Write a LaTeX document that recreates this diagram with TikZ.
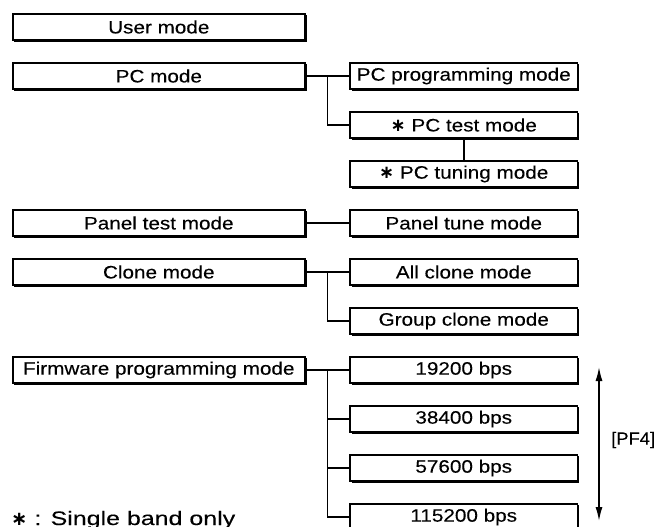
\documentclass[tikz,border=0pt]{standalone}
\usepackage{fontspec}
\setmainfont[FakeStretch=1.15,FakeBold=0.2]{Liberation Sans}
\newfontfamily\notefont[FakeStretch=1.28,FakeBold=0.2]{Liberation Sans}
\newfontfamily\plainfont[FakeStretch=1.05,FakeBold=0.2]{Liberation Sans}
\newfontfamily\symfont{DejaVu Sans}
\usetikzlibrary{arrows.meta,shadows,calc}
\newcommand{\myast}{{\symfont\bfseries\char"2217}}
\begin{document}
\begin{tikzpicture}[x=1pt,y=-1pt,
  mbox/.style={draw, line width=1.8pt, fill=white, minimum height=26.6pt, inner sep=0pt,
    font=\fontsize{18}{20}\selectfont,
    drop shadow={shadow xshift=1.6pt, shadow yshift=-1.6pt, fill=black, opacity=1}},
  lbox/.style={mbox, minimum width=292.4pt},
  rbox/.style={mbox, minimum width=227.5pt},
  conn/.style={line width=1.5pt},
  lbl/.style={font=\plainfont\fontsize{17.5}{20}\selectfont, inner sep=0pt}]
\useasboundingbox (0,0) rectangle (656,527);
\clip (0,0) rectangle (656,527);
\def\lx{158.8}
\def\rx{463.75}
% left column
\node[lbox] (user) at (\lx,27) {User mode};
\node[lbox] (pc) at (\lx,76) {PC mode};
\node[lbox] (panel) at (\lx,223) {Panel test mode};
\node[lbox] (clone) at (\lx,272) {Clone mode};
\node[lbox] (fw) at (\lx,370) {Firmware programming mode};
% right column
\node[rbox] (pcprog) at (\rx,76) {PC programming mode};
\node[rbox] (pctest) at (\rx,125) {\myast\ PC test mode};
\node[rbox] (pctune) at (\rx,174) {\myast\ PC tuning mode};
\node[rbox] (ptune) at (\rx,223) {Panel tune mode};
\node[rbox] (allc) at (\rx,272) {All clone mode};
\node[rbox] (grpc) at (\rx,321) {Group clone mode};
\node[rbox] (b1) at (\rx,370) {19200 bps};
\node[rbox] (b2) at (\rx,419) {38400 bps};
\node[rbox] (b3) at (\rx,468) {57600 bps};
\node[rbox] (b4) at (\rx,517) {115200 bps};
% connectors
\coordinate (j1) at ($(pc.east)!0.5!(pcprog.west)$);
\coordinate (j2) at ($(clone.east)!0.5!(allc.west)$);
\coordinate (j3) at ($(fw.east)!0.5!(b1.west)$);
\draw[conn] (pc.east) -- (pcprog.west);
\draw[conn] (j1) |- (pctest.west);
\draw[conn] (pctest.south) -- (pctune.north);
\draw[conn] (panel.east) -- (ptune.west);
\draw[conn] (clone.east) -- (allc.west);
\draw[conn] (j2) |- (grpc.west);
\draw[conn] (fw.east) -- (b1.west);
\draw[conn] (j3) |- (b4.west);
\draw[conn] (j3 |- b2.west) -- (b2.west);
\draw[conn] (j3 |- b3.west) -- (b3.west);
% PF4 arrow
\coordinate (atop) at (599,367);
\coordinate (abot) at (599,521);
\draw[conn, {Latex[length=14pt,width=7pt]}-{Latex[length=14pt,width=7pt]}] (atop) -- (abot);
\node[lbl, anchor=west] (pf4) at (611,440) {[PF4]};
% footnote
\node[font=\notefont\fontsize{19.5}{22}\selectfont, inner sep=0pt, anchor=base west] (note) at (11,525) {\myast\ : Single band only};
\end{tikzpicture}
\end{document}
